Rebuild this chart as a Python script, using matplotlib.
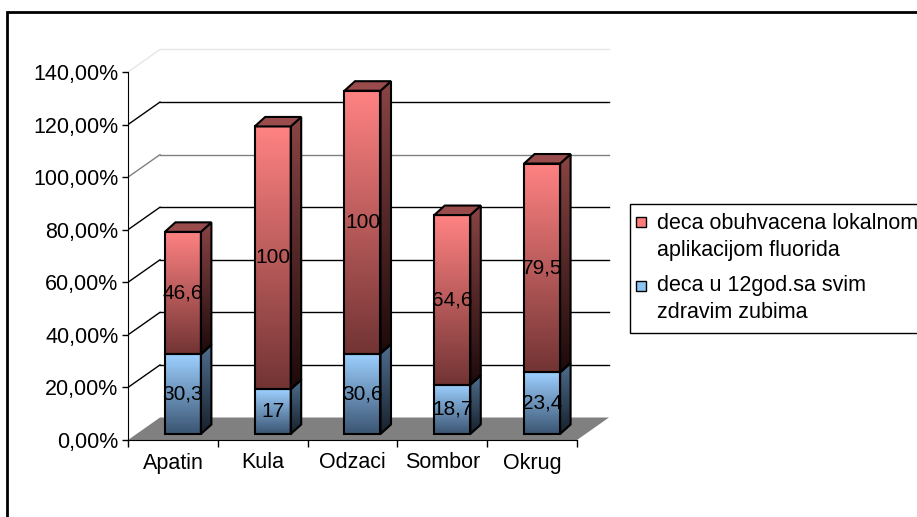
import matplotlib
matplotlib.use('Agg')
import matplotlib.pyplot as plt
import matplotlib.patches as mpatches
import numpy as np

plt.rcParams['font.family'] = ['Liberation Sans', 'DejaVu Sans']

categories = ['Apatin', 'Kula', 'Odzaci', 'Sombor', 'Okrug']
healthy = [30.3, 17, 30.6, 18.7, 23.4]       # deca u 12god.sa svim zdravim zubima
fluoride = [46.6, 100, 100, 64.6, 79.5]      # deca obuhvacena lokalnom aplikacijom fluorida
y_ticks = [0, 20, 40, 60, 80, 100, 120, 140]
legend_labels = ['deca obuhvacena lokalnom\naplikacijom fluorida',
                 'deca u 12god.sa svim\nzdravim zubima']

W, H = 917, 517
PX_X = 89.8      # pixels per category
PX_Y = 2.6286    # pixels per percent

# pseudo 3D offsets, in data units
DX, DY = 32 / PX_X, 22.5 / PX_Y          # wall depth
FX, FY = 10 / PX_X, 6 / PX_Y             # bar front offset from floor front
BX, BY = 10.5 / PX_X, 9.5 / PX_Y         # bar depth
BW = 36 / PX_X

fig = plt.figure(figsize=(W / 100, H / 100), dpi=100)
x_left, x_right = -0.5, 5.0
y_top = 150
ax = fig.add_axes([128 / W, (H - 440) / H,
                   (x_right - x_left) * PX_X / W, y_top * PX_Y / H])
ax.set_xlim(x_left, x_right)
ax.set_ylim(0, y_top)
ax.patch.set_alpha(0)

n = len(categories)
x_end = x_left + n

# back wall gridlines and left wall diagonals
for v in y_ticks[1:]:
    col = 'black'
    if v == 100:
        col = '#808080'
    if v == 140:
        col = '#e6e6e6'
    ax.plot([x_left + DX, x_end + DX], [v + DY, v + DY], color=col, lw=1, zorder=1)
    ax.plot([x_left, x_left + DX], [v, v + DY], color=col, lw=1, zorder=1)

# floor
floor = mpatches.Polygon([[x_left, 0], [x_end, 0], [x_end + DX, DY], [x_left + DX, DY]],
                         closed=True, facecolor='#808080', edgecolor='none', zorder=2)
ax.add_patch(floor)


def gradient_fill(patch, extent, top_col, bot_col, z):
    c0 = np.array(matplotlib.colors.to_rgb(top_col))
    c1 = np.array(matplotlib.colors.to_rgb(bot_col))
    t = np.linspace(0, 1, 64)[:, None, None]
    img = c0 * (1 - t) + c1 * t
    im = ax.imshow(img, extent=extent, origin='upper', aspect='auto',
                   zorder=z, interpolation='bilinear')
    im.set_clip_path(patch)


x = np.arange(n) + FX
bottoms = np.full(n, FY)
series = [
    (healthy, ('#9dd0ff', '#3b5573'), ('#4f6e8e', '#17212c'), None),
    (fluoride, ('#ff8282', '#733434'), ('#8a4444', '#1e0a0a'), '#9a4c4c'),
]
for vals, front_cols, side_cols, top_col in series:
    vals = np.array(vals, dtype=float)
    bars = ax.bar(x, vals, width=BW, bottom=bottoms, facecolor='none',
                  edgecolor='black', linewidth=1.5, zorder=5)
    for i, b in enumerate(bars):
        x0, x1 = b.get_x(), b.get_x() + b.get_width()
        y0, y1 = b.get_y(), b.get_y() + b.get_height()
        gradient_fill(b, (x0, x1, y0, y1), front_cols[0], front_cols[1], 4)
        side = mpatches.Polygon([[x1, y0], [x1 + BX, y0 + BY], [x1 + BX, y1 + BY], [x1, y1]],
                                closed=True, facecolor='none', edgecolor='black',
                                linewidth=1.5, zorder=5)
        ax.add_patch(side)
        gradient_fill(side, (x1, x1 + BX, y0, y1 + BY), side_cols[0], side_cols[1], 4)
        if top_col:
            top = mpatches.Polygon([[x0, y1], [x1, y1], [x1 + BX, y1 + BY], [x0 + BX, y1 + BY]],
                                   closed=True, facecolor=top_col, edgecolor='black',
                                   linewidth=1.5, zorder=5)
            ax.add_patch(top)
        lbl = f'{vals[i]:g}'.replace('.', ',')
        ax.text(x0 + BW / 2, (y0 + y1) / 2, lbl, ha='center', va='center',
                fontsize=15, color='black', zorder=6)
    bottoms = bottoms + vals

# axes
for s in ['top', 'right']:
    ax.spines[s].set_visible(False)
ax.spines['left'].set_bounds(0, 140)
ax.spines['bottom'].set_bounds(x_left, x_end)
ax.spines['left'].set_zorder(7)
ax.set_yticks(y_ticks)
ax.set_yticklabels([f'{v},00%' for v in y_ticks])
ax.tick_params(axis='y', direction='out', length=4, width=1, pad=3, labelsize=15.5)
ax.set_xticks(np.arange(n + 1) - 0.5)
ax.set_xticklabels([])
ax.set_xticks(np.arange(n), minor=True)
ax.set_xticklabels(categories, minor=True)
ax.tick_params(axis='x', which='major', direction='out', length=5, width=1)
ax.tick_params(axis='x', which='minor', length=0, pad=9, labelsize=15.5)

# legend box
fig.patches.append(mpatches.Rectangle((630 / W, 1 - 333 / H), 0.5, 129 / H,
                                      transform=fig.transFigure, facecolor='white',
                                      edgecolor='black', linewidth=1))
leg_cols = ['#ff7c7c', '#8cc4f4']
leg_sq = [222, 286]
leg_top = [213, 275]
for lab, col, yy, yt in zip(legend_labels, leg_cols, leg_sq, leg_top):
    fig.patches.append(mpatches.Rectangle((636 / W, 1 - (yy + 5) / H), 10 / W, 10 / H,
                                          transform=fig.transFigure, facecolor=col,
                                          edgecolor='black', linewidth=1))
    fig.text(657 / W, 1 - yt / H, lab, ha='left', va='top', fontsize=15.5,
             linespacing=1.4)

# outer chart frame
fig.patches.append(mpatches.Rectangle((7 / W, -0.1), 1.2, 1.1 - 12 / H,
                                      transform=fig.transFigure, facecolor='none',
                                      edgecolor='black', linewidth=2))

fig.savefig('out.png', dpi=100, facecolor='white')
